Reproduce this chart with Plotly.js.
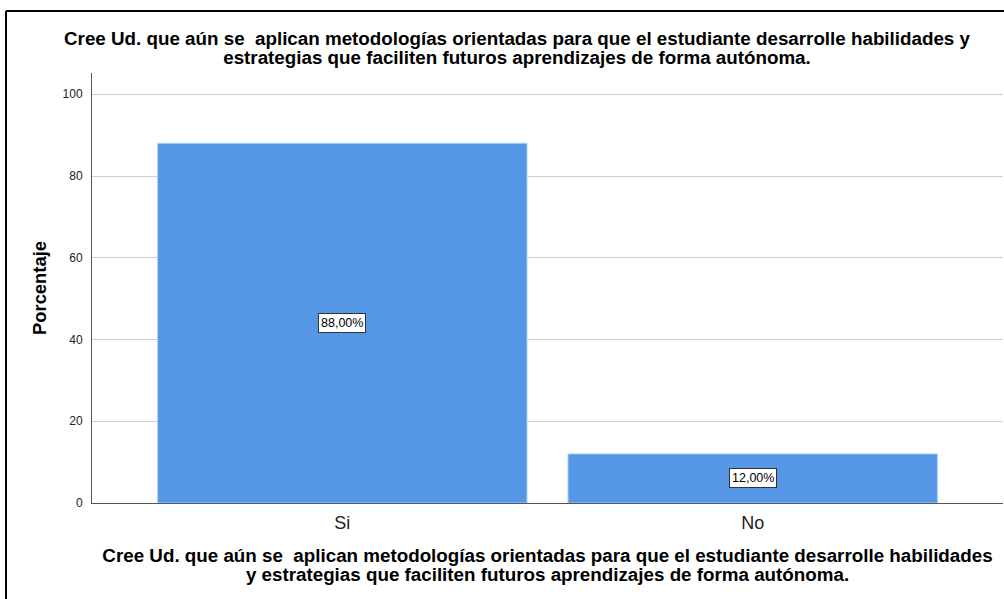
<!DOCTYPE html>
<html>
<head>
<meta charset="utf-8">
<script src="https://cdn.plot.ly/plotly-3.0.1.min.js"></script>
<style>
html,body{margin:0;padding:0;background:#fff;}
#chart{width:1004px;height:599px;}
</style>
</head>
<body>
<div id="chart"></div>
<script>
const categories = ["Si", "No"];
const percentages = [88.0, 12.0];
const labels = ["88,00%", "12,00%"];
const yTicks = [0, 20, 40, 60, 80, 100];
const titleLines = [
  "Cree Ud. que aún se  aplican metodologías orientadas para que el estudiante desarrolle habilidades y",
  "estrategias que faciliten futuros aprendizajes de forma autónoma."
];
const xTitleLines = [
  "Cree Ud. que aún se  aplican metodologías orientadas para que el estudiante desarrolle habilidades",
  "y estrategias que faciliten futuros aprendizajes de forma autónoma."
];
const yTitle = "Porcentaje";

const FONT = "Arial, 'Liberation Sans', sans-serif";
// large glyphs with tighter line spacing (base size controls spacing)
const big = s => "<b><span style='font-size:18.8px'>" + s + "</span></b>";
const joinLines = lines => lines.map(big).join("<br>");

const trace = {
  type: "bar",
  x: categories,
  y: percentages,
  width: 0.9,
  marker: {color: "#5596E6", line: {color: "#A9CBF2", width: 1}},
  hoverinfo: "skip"
};

const annotations = categories.map((c, i) => ({
  x: c, y: percentages[i] / 2, xref: "x", yref: "y",
  text: labels[i], showarrow: false,
  font: {family: FONT, size: 12.5, color: "#000"},
  bgcolor: "#ffffff", bordercolor: "#333", borderwidth: 1, borderpad: 2
}));

const layout = {
  width: 1004, height: 599,
  margin: {l: 92, r: 1, t: 73, b: 96},
  paper_bgcolor: "#fff", plot_bgcolor: "#fff",
  showlegend: false,
  title: {
    text: joinLines(titleLines),
    font: {family: FONT, size: 14.5, color: "#000"},
    x: 517/1004, xref: "container", xanchor: "center",
    y: 1 - 45/599, yref: "container", yanchor: "top"
  },
  xaxis: {
    type: "category",
    range: [-0.61, 1.61],
    showgrid: false, zeroline: false,
    showline: true, linecolor: "#555", linewidth: 1,
    ticks: "outside", ticklen: 3, tickcolor: "rgba(0,0,0,0)",
    tickfont: {family: FONT, size: 18, color: "#222"},
    title: {text: joinLines(xTitleLines), font: {family: FONT, size: 14.5, color: "#000"}, standoff: 20},
    automargin: false, fixedrange: true
  },
  yaxis: {
    range: [0, 105.2],
    tickvals: yTicks,
    showgrid: true, gridcolor: "#cfcfcf", gridwidth: 1,
    zeroline: false,
    showline: true, linecolor: "#555", linewidth: 1,
    ticks: "outside", ticklen: 6, tickcolor: "rgba(0,0,0,0)",
    tickfont: {family: FONT, size: 12, color: "#222"},
    title: {text: "<b>" + yTitle + "</b>", font: {family: FONT, size: 18.4, color: "#000"}, standoff: 11},
    automargin: false, fixedrange: true
  },
  annotations: annotations,
  shapes: [
    {type: "line", xref: "paper", yref: "paper", x0: -86/911, x1: 1.01, y0: 1 + 62/430, y1: 1 + 62/430, line: {color: "#000", width: 2}},
    {type: "line", xref: "paper", yref: "paper", x0: -86/911, x1: -86/911, y0: 1 + 62/430, y1: -96/430, line: {color: "#000", width: 2}}
  ]
};

Plotly.newPlot("chart", [trace], layout, {displayModeBar: false, staticPlot: true});
</script>
</body>
</html>
